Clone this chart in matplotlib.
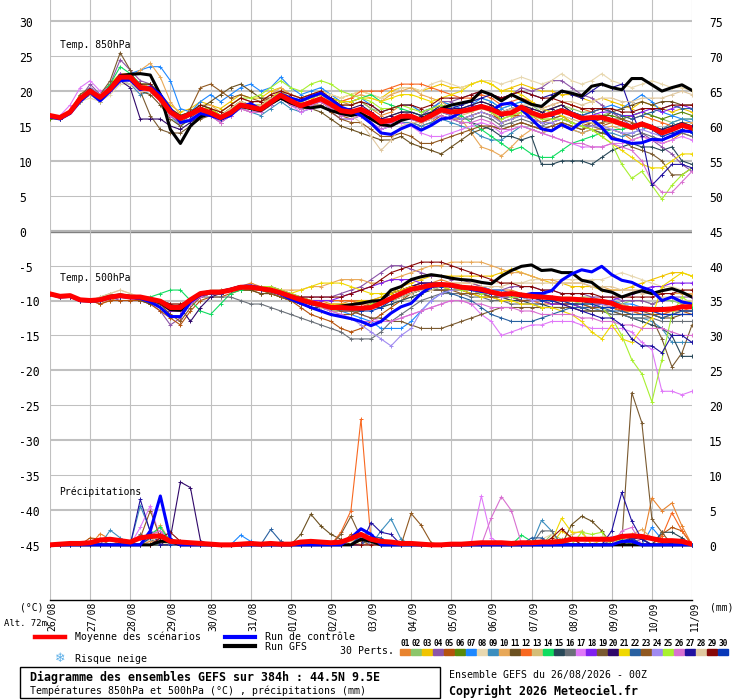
import numpy as np
import matplotlib
matplotlib.use("Agg")
import matplotlib.pyplot as plt
import matplotlib.transforms as mtransforms
from matplotlib.lines import Line2D
from matplotlib.patches import Rectangle

# GEFS ensemble run 26/08/2026 00Z, one value every 6h out to 384h
hours = list(range(0, 385, 6))
day_labels = ["26/08", "27/08", "28/08", "29/08", "30/08", "31/08", "01/09", "02/09", "03/09",
              "04/09", "05/09", "06/09", "07/09", "08/09", "09/09", "10/09", "11/09"]

pert_colors = ["#e8832e", "#8cc66a", "#f0c400", "#8c55a8", "#b5530d", "#5a8a0a", "#1e88ff", "#e8d8b0",
               "#3c8ebe", "#e8a858", "#6b5020", "#f86820", "#d4be78", "#10dc60", "#284858", "#6a7078",
               "#e078f8", "#8020f0", "#7a5a30", "#30086a", "#f0d800", "#2860a0", "#905820", "#a08af0",
               "#a8f030", "#d870d0", "#2010a0", "#e0c8a0", "#880808", "#0838b8"]

# 850 hPa temperature (C)
t850_mean = [16.5,16.2,17.0,18.9, 20.0,19.1,20.3,22.0, 22.0,20.5,20.3,18.9, 17.0,16.1,16.7,17.4, 16.9,16.2,16.9,18.0, 17.7,17.4,18.4,19.4, 18.6,17.9,18.4,18.9, 18.1,17.2,17.0,17.4, 16.7,15.6,15.8,16.4, 16.4,15.8,16.5,17.3, 17.0,17.1,17.4,17.8, 17.4,16.7,16.9,17.7, 16.9,16.4,16.7,17.2, 16.7,16.1,16.2,16.2, 15.8,15.3,14.8,15.3, 14.8,14.0,14.5,15.1, 14.7]
t850_ctrl = [16.3,16.0,16.8,18.5, 19.8,18.6,20.0,21.5, 21.6,20.2,20.6,19.5, 17.5,15.5,15.8,16.8, 16.5,16.0,16.5,17.8, 18.2,17.4,18.5,19.6, 19.0,18.6,19.2,19.7, 18.8,17.7,17.2,16.5, 15.4,14.0,13.8,14.6, 15.2,14.4,15.1,16.0, 16.2,17.0,17.6,17.9, 17.2,18.1,18.3,17.4, 16.0,14.6,14.3,15.2, 14.5,15.6,16.0,14.8, 13.2,12.9,12.5,12.6, 13.1,13.0,13.6,14.3, 14.2]
t850_gfs = [16.4,16.1,17.0,18.8, 20.2,18.8,20.5,22.2, 22.4,22.5,22.3,19.5, 14.5,12.5,15.0,16.3, 16.8,16.0,16.7,17.8, 17.5,17.2,18.2,19.0, 18.3,17.8,17.6,17.8, 17.2,16.8,16.5,16.8, 16.0,15.2,15.0,15.8, 16.2,16.0,16.7,17.5, 18.0,18.3,18.6,20.0, 19.5,18.6,19.5,18.8, 18.1,17.8,19.0,20.0, 19.7,19.3,20.7,21.0, 20.5,20.2,21.8,21.8, 20.9,20.0,20.5,20.9, 20.1]
t850_perts = [
    [16.5,16,17,19, 20,19,21,22.5, 22.5,21,20,19, 16.5,15.5,16,17, 17,16.5,17.5,18.5, 18,18,19,20, 19.5,19,19.5,19.5, 19,18.5,18,18.5, 17.5,16.5,17,18, 18,17,17.5,18, 17.5,17,17,18, 17,15.5,16,17, 16.5,15.5,16,16.5, 15.5,15,15,14.5, 14.5,14,13,13.5, 13,12.5,13,14, 13.5],
    [16.5,16.5,17,19, 20,19.5,20.5,22, 21.5,20.5,21,19.5, 17.5,16.5,17,18, 17.5,16.5,17.5,18.5, 18,18,19,20, 19,18.5,19,19.5, 18.5,18,18,18.5, 17.5,17,17.5,18, 18,17,17.5,18.5, 18,18,18.5,19, 18.5,17.5,18,18.5, 18,17,17.5,18, 17.5,17,17,16.5, 17,16,16.5,17, 16.5,16,15.5,16, 16],
    [16.5,16,17,19.5, 20.5,19.5,21,22.5, 22,21,21,19.5, 18,17,17.5,18.5, 18,17.5,18.5,19.5, 19,19,20,20.5, 19.5,19,19.5,20, 19.5,19,19.5,20, 19.5,19,20,20.5, 20.5,20,20.5,21, 20.5,20.5,21,21.5, 21,20,20.5,21, 20.5,20,20,19.5, 19.5,19,18.5,19, 18.5,18,17.5,18.5, 18,17.5,17,17.5, 17],
    [16.5,16,17,19, 21,19.5,21,24.5, 23,21.5,21,19.5, 17,15.5,16,17, 16.5,15.5,16.5,17.5, 17,17,18,19.5, 18.5,18,18.5,19, 18,17.5,17,17.5, 16.5,15,15.5,16.5, 17,16.5,17.5,18.5, 18.5,19,19.5,20, 19.5,19,19.5,20.5, 20,20.5,21.5,21.5, 20.5,19.5,19,18, 17,16,15,14, 13,12,11,9.5, 8.5],
    [16.5,16,17,18.5, 19.5,19,20,21.5, 21.5,20,20,18.5, 16.5,15.5,16,17, 16.5,16,17,18, 17.5,17.5,18.5,19, 18,17.5,18,18.5, 17.5,16.5,16,16.5, 15.5,14.5,15,15.5, 15.5,15,15.5,16.5, 16,16,16.5,17, 16.5,16,16.5,16.5, 16,15.5,15.5,16, 15.5,15,15.5,15, 15.5,15,14.5,15, 14.5,14,14.5,15, 15],
    [16,16,17,19, 20,19,20,22, 22,20.5,20.5,19, 17,16,16.5,17.5, 17.5,16.5,17.5,18, 17.5,17,18,19, 18,17.5,18,18.5, 17.5,17,17,17.5, 17,16,16.5,17, 17,16.5,17,18, 17.5,17.5,18,18.5, 18,17,17.5,18, 17.5,17,17.5,18, 17,16.5,16,16.5, 16.5,16,16.5,17, 16.5,16,16.5,17, 16.5],
    [16.5,16.5,17,19, 20,19,20.5,22, 22.5,23,23.5,23.5, 21.5,17.5,17,18.5, 19.5,18.5,19.5,20.5, 21,20,20.5,22, 20.5,19.5,20,20.5, 19.5,18.5,18.5,19, 18,17,17.5,18, 18,17,17.5,18.5, 18,17.5,18,19, 18.5,17.5,18,18.5, 18,17.5,17,17.5, 17,16.5,17,17.5, 18,17.5,18.5,19.5, 18.5,17,16.5,16, 15.5],
    [16.5,16,17,18.5, 19,18.5,19.5,21, 21,20,20,18.5, 17,16,16.5,17.5, 17,16.5,17.5,18.5, 18,18,19,20, 19.5,19,19.5,20, 19.5,19,19.5,20, 19.5,19,19.5,20.5, 20.5,20,21,21.5, 21,20.5,21,21.5, 21.5,21,21.5,22, 21.5,21,21.5,22.5, 21.5,21,21.5,22.5, 21.5,21,20.5,21, 21.5,21,20.5,20.5, 20],
    [16.5,16,17,18.5, 19.5,18.5,20,21.5, 21,19.5,20,18.5, 16.5,15,16,17, 16.5,15.5,16.5,17.5, 17,16.5,17.5,18.5, 17.5,17,17.5,18, 17,16,16,16.5, 15.5,14.5,15,15.5, 15.5,15,15.5,16, 15.5,15,14.5,13.5, 13,13,14,15, 14.5,14,14.5,15, 14.5,14,14.5,14, 14,13.5,14,14.5, 15,14.5,15.5,16, 16],
    [16.5,16,17,19, 20,19,20.5,22, 22,23,24,22, 18.5,16.5,17,18, 18,17,18,19, 18.5,18.5,19.5,20.5, 19.5,19,19.5,20, 19,18.5,19,19.5, 19,18.5,19.5,20, 20.5,19.5,19,18.5, 17.5,16,14,12, 11.5,10.7,12,13.5, 14.5,14,14.5,15, 14.5,14,14.5,14.5, 15,14.5,15,15.5, 15,14.5,15,15.5, 15.5],
    [16.5,16,17,19, 20,19,20.5,22, 22,20,19.5,18, 16,15,16,17.5, 18.5,19.5,20.5,21, 20,19,19,19.5, 18.5,17.5,17.5,17, 16,15,14.5,14, 13.5,13,13,13.5, 12.5,12,11.5,11, 12,13,14,14.5, 15,14.5,15,15.5, 15,14.5,15,15.5, 15,14.5,15.5,16, 17,17.5,18,18.5, 18,18.5,18.5,18, 18],
    [16.5,16,17,19, 20,19,20,21.5, 22,21,20.5,19, 17,16,16.5,17.5, 17,16.5,17.5,18.5, 18,18,19,19.5, 19,18.5,19,19.5, 19,18.5,19,20, 20,20,20.5,21, 21,21,20.5,20, 19.5,19,19,19.5, 19,18,18.5,19, 18.5,17.5,18,18.5, 18,17.5,17,17.5, 17,16.5,16,16.5, 16,15.5,15,15.5, 15],
    [16.5,16,17,18.5, 19.5,18.5,20,21.5, 21.5,20,20,18.5, 16.5,15.5,16,17, 16.5,15.5,16.5,17.5, 17,17,18,19, 18,17.5,18,18.5, 17.5,16.5,16.5,17, 16,15,15.5,16, 16,15.5,16,17, 16.5,16.5,17,17.5, 17,16,16.5,17, 16.5,16,16,16.5, 16,15.5,15.5,15.5, 15.5,15,14.5,15, 14.5,14,14.5,15, 14.5],
    [16.5,16,17,19, 20,19.5,21,23.5, 22.5,21,21,19.5, 17.5,16.5,17,18, 17.5,16.5,17.5,18.5, 18,18,19,19.5, 19,18.5,19,19.5, 19,18.5,18.5,19, 19.5,18.5,18,17.5, 17,16.5,17,17.5, 17,16.5,15.5,14.5, 13.5,12.5,11.5,12, 11,10.5,10.5,11.5, 12.5,13,13.5,14, 14.5,14.5,15,15.5, 15,14.5,15,15.5, 15],
    [16.5,16,17,19, 20,19,20.5,22, 21.5,20,20,18.5, 16.5,15.5,16,17, 17,16,17,18, 17.5,17.5,18.5,19, 18.5,18,18.5,19, 18,17,17,17, 16,15,15.5,16, 16,15.5,16,16.5, 16,15.5,15.5,15, 14.5,13.5,13.5,13, 13.5,9.5,9.5,10, 10,10,9.5,10.5, 11.5,12,12.5,12, 12,11.5,12,10, 9.5],
    [16.5,16,17,19, 20,19,20,22, 22,20.5,20,18.5, 16.5,15.5,16.5,17.5, 17,16,17,18, 17.5,17.5,18.5,19.5, 18.5,18,18.5,19, 18,17,16.5,17, 16,15,15.5,16, 16.5,16,16.5,17, 16.5,16,16,16.5, 16,15,15.5,16, 15.5,15,15.5,16, 15.5,15,15,14.5, 14.5,14,13.5,14, 13.5,13,13.5,14, 13.5],
    [16.5,16.5,18,20.5, 21.5,20,20.5,22, 21.5,20,20,18.5, 16.5,15.5,16,17, 16.5,15.5,16.5,17.5, 17,17,18,19, 18,17,17.5,18, 17,16,16,16.5, 15.5,14.5,15,15.5, 15,14,13.5,13.5, 14,14.5,15,15.5, 15,14,14.5,15, 14.5,14,13.5,13, 12.5,12,12,12, 12.5,12.5,13,13.5, 13,12.5,13,13.5, 13],
    [16.5,16,17,19, 20,19,20.5,22.5, 22,20.5,20.5,19, 17,16,16.5,17.5, 17,16.5,17.5,18.5, 18,17.5,18.5,19.5, 18.5,18,18.5,19, 18,17,17,17.5, 17,16,16,16.5, 16.5,16,16.5,17.5, 17,17,17.5,18, 17.5,16.5,17,17.5, 17,16.5,16.5,17, 16.5,16,16.5,17, 17,16.5,16.5,17, 17.5,17,17.5,18, 17.5],
    [16.5,16,17,19.5, 20.5,19.5,21.5,25.5, 23,20,16.5,14.5, 14,14,15,16, 16.5,16,17,18, 17.5,17,18,19, 18,17.5,18,18.5, 17.5,16.5,16.5,17, 16,15,15.5,16, 16,15.5,16,17, 16.5,16,16.5,17, 16.5,15.5,16,16.5, 16,15.5,16,16.5, 15.5,15,14.5,14, 13.5,13,12,11.5, 11,10,8,8, 9],
    [16.5,16,17,19, 20,19,20.5,21.5, 20.5,16,16,16, 15,14.5,15.5,16.5, 16.5,16,17,18, 17.5,17.5,18.5,19.5, 18.5,18,18.5,19, 18,17.5,17.5,18, 17,16,16.5,17, 17,16.5,17,18, 17.5,17.5,18,18.5, 18,17,17.5,18, 17.5,17,17.5,18, 17,16.5,16,16.5, 16,15.5,15,15.5, 15,14.5,15,15.5, 15],
    [16.5,16,17,19, 20,19,20.5,22, 22,20.5,20.5,19, 17,16,16.5,17.5, 17.5,16.5,17.5,18.5, 18,18,19,20, 19,18.5,19,19.5, 19,18.5,18.5,19, 19,18.5,19,19.5, 19.5,19,18.5,19, 19.5,20,21,21.5, 21,20,20,19.5, 18.5,17.5,17,16.5, 15.5,15,14.5,13.5, 12.5,11.5,10.5,9.5, 9,9,10,11, 11],
    [16.5,16,17,19, 20,19,20.5,22, 22,20.5,20.5,19, 17,16,16.5,17.5, 17,16,17,18, 17.5,17.5,18.5,19.5, 18.5,18,18.5,19, 18,17,17,17.5, 16.5,15.5,16,16.5, 16.5,16,16.5,17.5, 17,17,17.5,18, 17.5,16.5,17,17.5, 17,16.5,17,17.5, 17,16.5,17,17.5, 17,16.5,16,16.5, 17,17.5,18,17.5, 17.5],
    [16.5,16,17,19, 20,19,20.5,22, 22,20.5,20,18.5, 16.5,15.5,17.5,20.5, 21,20,19,19.5, 19,18.5,19,19.5, 18.5,18,18,18, 17,16,15.5,15.5, 14.5,13.5,13.5,14, 13.5,12.5,12.5,13, 13.5,14,14.5,15, 15,14.5,15,15.5, 15,14.5,15,15.5, 15,14.5,15,15.5, 16,16,15.5,15, 14.5,14,14.5,15, 14.5],
    [16.5,16,17,19, 20.5,19.5,20.5,22, 21.5,20,20,18.5, 17,16,16.5,17.5, 17,16,17,18, 17.5,17,18,19, 18,17.5,18,18.5, 17.5,16.5,16.5,17, 16,15,15.5,16, 16,15.5,16,17, 16.5,16,16.5,17, 16.5,15.5,16,16.5, 16,15.5,15.5,16, 15.5,15,15,15, 14.5,14,14,14.5, 14,13.5,14,14.5, 14],
    [16.5,16,17,19, 20,19,20.5,22, 22,20.5,20.5,19, 17,16,16.5,17.5, 17.5,17,18,19, 19,19.5,20.5,21.5, 20.5,20,21,21.5, 21,20,19.5,19, 18.5,17.5,17.5,18, 17.5,17,17.5,18, 17.5,17,17.5,18, 17,16,16.5,17, 16.5,16,16,16, 15.5,15,14.5,13.5, 12.5,9.5,7.5,8.5, 6.5,4.5,6.5,8, 9],
    [16.5,16,17,19, 20,19,20,21.5, 21.5,20,20,18.5, 16.5,15.5,16,17, 16.5,15.5,16.5,17.5, 17,17,18,19, 18,17.5,18,18.5, 17.5,16.5,16.5,17, 16,15,15.5,16, 16,15.5,16,16.5, 16,15.5,15.5,16, 15.5,14.5,14.5,15, 14.5,14,13.5,13, 12.5,12.5,12,12, 12.5,12,11.5,10, 7,5.5,5.5,7, 8.5],
    [16.5,16,17,19, 20,19,20.5,22, 22,20.5,20.5,19, 17,16,16.5,17.5, 17,16,17,18, 17.5,17.5,18.5,19.5, 18.5,18,18.5,19, 18,17,17,17.5, 16.5,15.5,16,16.5, 16.5,16,16.5,17.5, 17.5,18,18.5,19, 19.5,19,19.5,20, 19.5,19,19.5,20, 19.5,19,20,21, 20.5,21,17,13.5, 6.5,8,9.5,9.5, 9],
    [16.5,16,17,19, 20,19.5,20.5,21.5, 21,20,20,18.5, 17,16,16.5,17.5, 17,16.5,17.5,18.5, 18,18,19,19.5, 18.5,18,18.5,19, 18,17,16.5,15.5, 13.5,11.5,13,15, 15.5,15.5,16,17, 17,17,17.5,18, 17.5,17,17.5,18, 18,17.5,18,18.5, 18.5,18,18.5,19, 19,18.5,18.5,19, 19,19,19.5,20, 19.5],
    [16.5,16,17,19, 20,19,20.5,22, 22,21,21,19.5, 17.5,16.5,17,18, 17.5,17,18,19, 18.5,18.5,19.5,20, 19.5,19,19.5,20, 19,18,18,18.5, 18,17,17.5,18, 18,17.5,18,19, 19,19,19.5,20, 19.5,19,19.5,20, 19.5,19,19,18.5, 18,17.5,17.5,17.5, 17.5,17,17,17.5, 17.5,17.5,18,18, 18],
    [16.5,16,17,19, 20,19,20.5,22, 22,20.5,20.5,19, 17,16,16.5,17.5, 17,16,17,18, 17.5,17.5,18.5,19.5, 18.5,18,18.5,19, 18,17,17,17.5, 16.5,15.5,16,16.5, 16.5,16,16.5,17.5, 17,17,17.5,18, 17.5,16.5,17,17.5, 17,16.5,16.5,17, 16.5,16,16,16, 16,15.5,15,15.5, 14.5,13.5,14,14.5, 14],
]

# 500 hPa temperature (C)
t500_mean = [-9.05,-9.4,-9.3,-9.9, -10.0,-9.9,-9.5,-9.3, -9.5,-9.5,-9.8,-10.1, -11.0,-11.0,-9.9,-9.0, -8.8,-8.8,-8.5,-8.1, -8.1,-8.3,-8.5,-8.9, -9.4,-9.9,-10.3,-10.6, -11.0,-11.0,-11.1,-11.1, -11.0,-10.4,-9.7,-9.0, -8.4,-8.1,-7.8,-7.7, -7.8,-8.1,-8.2,-8.4, -8.8,-9.1,-9.0,-9.2, -9.4,-9.5,-9.6,-9.8, -9.8,-9.9,-10.0,-10.1, -10.4,-11.0,-11.2,-11.2, -11.3,-11.3,-11.2,-10.9, -10.9]
t500_ctrl = [-9.1,-9.5,-9.4,-10.0, -10.1,-10.0,-9.6,-9.4, -9.6,-9.7,-10.2,-11.0, -12.3,-12.3,-10.2,-9.2, -8.9,-8.8,-8.4,-8.0, -7.9,-8.2,-8.6,-9.1, -9.8,-10.4,-11.0,-11.5, -12.0,-12.3,-12.6,-13.0, -13.6,-13.0,-11.8,-10.9, -10.4,-9.0,-8.0,-7.8, -7.8,-8.0,-8.4,-8.7, -8.9,-9.2,-9.0,-9.3, -9.0,-9.0,-8.6,-7.1, -6.2,-5.6,-5.9,-5.1, -6.3,-7.1,-7.4,-8.1, -8.6,-10.0,-9.5,-10.2, -10.5]
t500_gfs = [-9.0,-9.4,-9.3,-9.9, -10.0,-9.8,-9.4,-9.2, -9.4,-9.5,-9.9,-10.3, -11.3,-11.4,-10.0,-9.0, -8.7,-8.7,-8.4,-8.0, -8.0,-8.3,-8.6,-9.0, -9.5,-10.0,-10.4,-10.7, -10.9,-10.8,-10.6,-10.4, -10.1,-10.0,-8.5,-8.0, -7.0,-6.6,-6.3,-6.5, -6.8,-7.0,-7.1,-7.4, -7.6,-6.5,-5.7,-5.1, -4.9,-5.7,-5.6,-6.0, -6.0,-7.1,-7.4,-8.5, -8.8,-9.5,-9.0,-8.6, -9.0,-8.6,-8.3,-8.8, -9.5]
t500_perts = [
    [-9,-9.5,-9.5,-10, -10,-10.5,-10,-9.5, -9.5,-9.5,-10,-10.5, -11.5,-11.5,-10.5,-9.5, -9,-9,-8.5,-8, -7.5,-8,-8,-8.5, -9,-9.5,-10,-10, -10.5,-10.5,-10,-10, -10,-9.5,-9,-8.5, -8,-7.5,-7.5,-7, -7.5,-7.5,-7.5,-8, -8.5,-8.5,-8.5,-9, -9,-9.5,-9.5,-10, -10,-10,-10.5,-10.5, -11,-11.5,-11.5,-11, -11.5,-12,-11.5,-11, -11],
    [-9,-9.5,-9.5,-10, -10,-9.5,-9,-9.5, -9.5,-9.5,-10,-10, -11,-10.5,-10,-9, -9,-8.5,-8.5,-8, -8,-8.5,-8.5,-9, -9.5,-10,-10,-10.5, -11,-11,-11,-11, -11,-10.5,-9.5,-9, -8.5,-8,-8,-7.5, -8,-8,-8,-8.5, -9,-9,-9,-9.5, -9.5,-9.5,-10,-10, -10,-9.5,-9.5,-10, -10,-10.5,-10,-10, -10.5,-10,-10,-10.5, -10],
    [-9,-9.5,-9.5,-10, -10,-10,-9.5,-9.5, -9.5,-9.5,-10,-10, -11,-11,-10,-9, -9,-9,-8.5,-8, -8,-8.5,-8.5,-9, -9.5,-10,-10,-10.5, -10.5,-10.5,-10.5,-10, -10,-9.5,-9,-8, -7.5,-7,-6.5,-6.5, -6.5,-6.5,-6.5,-6.5, -6.5,-6,-5.5,-6, -6.5,-7,-7.5,-7.5, -8,-8,-8,-8.5, -8.5,-8.5,-8,-7.5, -7,-6.5,-6,-6, -6.5],
    [-9,-9.5,-9.5,-10, -10,-10,-9.5,-10, -10,-10,-10.5,-11.5, -13.5,-12.5,-10.5,-9.5, -9,-9,-8.5,-8, -8,-8.5,-8.5,-9, -9.5,-9.5,-9.5,-9.5, -9.5,-9,-8.5,-8, -7,-6,-5,-5, -5.5,-6,-6.5,-6.5, -7,-7,-7.5,-8, -8.5,-8.5,-8,-8, -8,-8.5,-8.5,-9, -9,-9,-9.5,-9.5, -9.5,-10,-10,-10, -10.5,-10,-9.5,-9.5, -9.5],
    [-9,-9.5,-9.5,-10, -10,-10.5,-10,-10, -10,-10,-10.5,-11.5, -12.5,-13.5,-11.5,-10, -9.5,-9.5,-9,-8.5, -8.5,-9,-9,-9.5, -10,-11,-12,-12.5, -13,-14,-14.5,-14, -13,-12,-11,-10, -9,-8.5,-8.5,-8.5, -9,-9,-9,-9.5, -9.5,-10,-10,-10, -10,-10,-10.5,-10.5, -10.5,-10.5,-11,-11, -11,-11.5,-11.5,-12, -12,-12.5,-12,-11.5, -12],
    [-9,-9.5,-9.5,-10, -10,-10,-9.5,-9.5, -9.5,-9.5,-10,-10, -11,-11,-10,-9, -9,-9,-8.5,-8.5, -8.5,-8.5,-9,-9.5, -10,-10.5,-11,-11, -11,-11.5,-11.5,-11.5, -11,-10.5,-10,-9.5, -9,-8.5,-8.5,-8, -8,-8.5,-8.5,-9, -9,-9.5,-9.5,-9.5, -10,-10,-10,-10, -10.5,-10.5,-10,-10, -10,-10.5,-11,-11, -11,-11.5,-11.5,-11, -11],
    [-9,-9.5,-9.5,-10, -10,-10,-9.5,-9.5, -9.5,-9.5,-10,-10, -11,-11,-10,-9, -9,-9,-8.5,-8, -8,-8,-8,-8.5, -9,-9.5,-10,-10.5, -11,-11.5,-12,-12.5, -13,-14,-14,-14, -13,-11.5,-10,-9, -8.5,-8,-8,-8, -8.5,-8.5,-9,-9, -9,-9,-9.5,-9.5, -10,-10,-10,-10, -10,-10.5,-10.5,-11, -11,-11,-11.5,-11.5, -11.5],
    [-9,-9.5,-9.5,-10, -10,-10,-9,-8.5, -9,-9.5,-10,-10, -10.5,-10.5,-10,-9, -9,-9,-8.5,-8, -8,-8.5,-8.5,-9, -9.5,-10,-10,-10.5, -11,-11,-11,-11, -11,-10.5,-9.5,-9, -8.5,-8,-8,-7.5, -7.5,-7.5,-7.5,-7.5, -7.5,-7.5,-7.5,-7.5, -7,-7,-7,-7, -7,-7,-7,-7, -6.5,-6,-6.5,-7, -7.5,-8,-8,-8.5, -8.5],
    [-9,-9.5,-9.5,-10, -10,-10,-9.5,-9.5, -9.5,-9.5,-10,-10, -11,-11,-10,-9, -9,-9,-8.5,-8, -8,-8.5,-8.5,-9, -9.5,-10,-10.5,-10.5, -11,-11,-11,-11, -11,-10.5,-9.5,-9, -8.5,-8,-8,-8, -8,-8,-8.5,-9, -9,-9.5,-9.5,-10, -10,-10,-10.5,-10.5, -10.5,-11,-11,-11.5, -11.5,-12,-12.5,-12.5, -13,-14,-16,-16, -16],
    [-9,-9.5,-9.5,-10, -10,-10,-9.5,-9.5, -9.5,-9.5,-10,-10, -11,-11,-10,-9, -9,-9,-8.5,-8, -8,-8.5,-8.5,-8.5, -8.5,-8.5,-8,-8, -7.5,-7,-7,-7, -7.5,-7.5,-7,-6.5, -6,-5.5,-5,-5, -4.5,-4.5,-4.5,-4.5, -5,-5.5,-6,-6, -6.5,-7,-7,-7.5, -7.5,-7.5,-8,-8, -8.5,-8.5,-8.5,-8.5, -9,-9,-9,-9, -9],
    [-9,-9.5,-9.5,-10, -10,-10,-9.5,-9.5, -9.5,-10,-10.5,-10.5, -11.5,-11.5,-10.5,-9.5, -9,-9,-8.5,-8.5, -8.5,-9,-9,-9.5, -10,-10.5,-11,-11, -11.5,-11.5,-11.5,-11, -10.5,-10,-9,-8.5, -8,-7.5,-7.5,-7.5, -8,-8,-8.5,-9, -9.5,-9.5,-9.5,-10, -10,-10,-10.5,-10.5, -10.5,-11,-11,-11, -11,-11.5,-12,-12, -12,-12.5,-12.5,-12, -12],
    [-9,-9.5,-9.5,-10, -10,-10,-9.5,-9.5, -9.5,-9.5,-10,-10, -11,-11,-10,-9, -9,-8.5,-8.5,-8, -8,-8,-8,-8.5, -9,-9.5,-10,-10, -10,-10,-10,-10.5, -10.5,-10,-9.5,-9, -8.5,-8.5,-8,-8, -8.5,-8.5,-9,-9, -9.5,-9.5,-10,-10, -10,-10.5,-10.5,-10.5, -11,-11,-11,-11, -11,-11.5,-11.5,-12, -12,-12,-11.5,-11.5, -11],
    [-9,-9.5,-9.5,-10, -10,-10,-9.5,-9, -9.5,-9.5,-10,-10, -11,-11,-10,-9, -9,-9,-8.5,-8, -8,-8.5,-8.5,-9, -9.5,-10,-10.5,-11, -11.5,-11.5,-11.5,-11.5, -11,-11,-10.5,-10, -9.5,-9,-8.5,-8.5, -8.5,-8.5,-8.5,-8.5, -8.5,-9,-9,-9, -9,-9.5,-9.5,-9.5, -9.5,-10,-10,-10, -10.5,-10.5,-11,-11, -11,-11.5,-11.5,-11.5, -11.5],
    [-9,-9.5,-9.5,-10, -10,-10,-9.5,-9.5, -9.5,-9.5,-9.5,-9, -8.5,-8.5,-10,-11.5, -12,-10.5,-9,-8.5, -8,-8.5,-8.5,-9, -9.5,-10,-10.5,-10.5, -11,-11,-11,-11, -11,-10.5,-10,-9.5, -9,-8.5,-8.5,-8, -8.5,-8.5,-8.5,-9, -9,-9.5,-9.5,-9.5, -9.5,-10,-10,-10, -10,-10,-10,-10.5, -10.5,-11,-11,-11, -11.5,-11.5,-11,-11, -11],
    [-9,-9.5,-9.5,-10, -10,-10,-9.5,-9.5, -9.5,-9.5,-10,-10, -11,-11,-10,-9, -9,-9,-8.5,-8, -8,-8.5,-8.5,-9, -9.5,-10,-10.5,-11, -11,-11.5,-11.5,-11.5, -11,-11,-10.5,-10, -9.5,-9,-8.5,-8.5, -8.5,-8.5,-9,-9, -9.5,-9.5,-10,-10, -10.5,-10.5,-11,-11, -11,-11,-11.5,-11.5, -12,-12,-12.5,-13, -13.5,-14,-15,-18, -18],
    [-9,-9.5,-9.5,-10, -10,-10,-9.5,-9.5, -9.5,-9.5,-10,-10, -11,-11,-10,-9.5, -9.5,-9.5,-9.5,-10, -10.5,-10.5,-11,-11.5, -12,-12.5,-13,-13.5, -14,-14.5,-15.5,-15.5, -15.5,-14.5,-13,-12, -11,-10,-9.5,-9, -9,-9,-9.5,-9.5, -10,-10,-10.5,-10.5, -10.5,-11,-11,-11, -11,-11.5,-11.5,-11.5, -12,-12,-12.5,-12.5, -12.5,-13,-13,-13, -13],
    [-9,-9.5,-9.5,-10, -10,-10,-9.5,-9.5, -9.5,-9.5,-10,-10.5, -11,-11,-10,-9, -9,-9,-8.5,-8, -8,-8.5,-8.5,-9, -9.5,-10,-10.5,-11, -11,-11.5,-11.5,-12, -12.5,-13,-13,-12.5, -12,-11.5,-11,-10.5, -10,-10,-10.5,-12, -13,-15,-14.5,-14, -13.5,-13.5,-13,-13, -13,-13.5,-14,-14, -14,-14,-14.5,-16, -17,-23,-23,-23.5, -23],
    [-9,-9.5,-9.5,-10, -10,-10,-9.5,-9.5, -9.5,-9.5,-10,-10.5, -11.5,-11.5,-10.5,-9.5, -9,-9,-8.5,-8, -8,-8.5,-8.5,-9, -9.5,-10,-10,-10, -10,-9.5,-9,-8.5, -8,-7.5,-7,-7, -7,-7.5,-7.5,-8, -8,-8.5,-8.5,-9, -9,-9.5,-9.5,-10, -10,-10,-10.5,-10.5, -10.5,-11,-11,-10.5, -10,-9.5,-9,-8.5, -8,-8,-7.5,-7.5, -7.5],
    [-9,-9.5,-9.5,-10, -10,-10,-9.5,-9.5, -9.5,-9.5,-10,-10, -11,-11,-10,-9, -9,-9,-8.5,-8, -8,-8.5,-8.5,-9, -9.5,-10,-10.5,-11, -11,-11.5,-11.5,-12, -12.5,-12.5,-13,-13, -13.5,-14,-14,-14, -13.5,-13,-12.5,-12, -11.5,-11,-11,-11, -11,-11,-11,-11, -11,-11.5,-11.5,-11.5, -11.5,-12,-12,-12, -12.5,-15.5,-19.5,-17.5, -13.5],
    [-9,-9.5,-9.5,-10, -10,-10,-9.5,-9.5, -9.5,-9.5,-10,-10, -10.5,-11,-13,-11, -9.5,-9,-8.5,-8, -8,-8.5,-8.5,-9, -9.5,-10,-10.5,-10.5, -11,-11,-11,-11, -10.5,-10,-9,-8.5, -8,-7.5,-7.5,-7.5, -8,-8,-8,-8.5, -9,-9,-9,-9.5, -9.5,-9.5,-10,-10, -10,-10,-10.5,-10.5, -10.5,-11,-11,-11, -11,-11,-11,-11.5, -11.5],
    [-9,-9.5,-9.5,-10, -10,-10,-9.5,-9.5, -9.5,-9.5,-10,-10, -11,-11,-10,-9, -9,-9,-8.5,-8, -8,-8.5,-8.5,-9, -9,-8.5,-8,-7.5, -7.5,-7.5,-8,-8.5, -9,-9,-9,-8.5, -8,-8,-8,-8, -8.5,-8.5,-9,-9.5, -9.5,-10,-10,-10.5, -10.5,-11,-11,-11.5, -12,-13,-14.5,-15.5, -13.5,-15.5,-16,-14, -12.5,-8,-7,-6, -6.5],
    [-9,-9.5,-9.5,-10, -10,-10,-9.5,-9.5, -9.5,-9.5,-10,-10, -11,-11,-10,-9, -9,-9,-8.5,-8, -8,-8.5,-8.5,-9, -9.5,-10,-10.5,-10.5, -11,-11,-11,-11, -11,-10.5,-10,-9.5, -9,-8.5,-8.5,-8.5, -9,-9.5,-10,-11, -12,-12.5,-13,-13, -13,-12.5,-12,-11.5, -11,-11,-11,-11, -11.5,-11.5,-12,-12, -12,-12.5,-12,-11.5, -11.5],
    [-9,-9.5,-9.5,-10, -10,-10,-9.5,-9.5, -9.5,-10,-10,-10.5, -12,-13,-11,-9.5, -9,-9,-8.5,-8, -8,-8.5,-9,-9.5, -10,-10.5,-11,-11.5, -12,-12,-12,-11.5, -11,-10.5,-10,-9.5, -9,-8.5,-8.5,-8.5, -8.5,-9,-9,-9, -9.5,-9.5,-9.5,-10, -10,-10,-10,-10.5, -10.5,-10.5,-11,-11, -11,-11,-11.5,-11.5, -12,-12,-12,-12, -12],
    [-9,-9.5,-9.5,-10, -10,-10,-9.5,-9.5, -9.5,-9.5,-10,-10, -11,-11,-10,-9, -9,-9,-8.5,-8, -8,-8.5,-8.5,-9, -9.5,-10,-10.5,-11, -11.5,-12,-12.5,-13.5, -14.5,-15.5,-16.5,-15, -14,-11.5,-10,-9, -8.5,-8.5,-8.5,-9, -9,-9.5,-9.5,-9.5, -10,-10,-10,-10, -10,-10.5,-10.5,-10.5, -11,-11,-11.5,-11.5, -11.5,-12,-12,-12, -12],
    [-9,-9.5,-9.5,-10, -10,-10,-9.5,-9.5, -9.5,-9.5,-10,-10, -11,-11,-10,-9, -9,-9,-8.5,-8, -8,-8,-8,-8.5, -9,-9.5,-10,-10.5, -11,-11,-11,-11, -10.5,-10,-9.5,-9, -8.5,-8,-8,-8, -8,-8.5,-8.5,-9, -9,-9,-9.5,-9.5, -9.5,-10,-10,-10, -10,-10.5,-10.5,-11, -12.5,-15,-18.5,-20.5, -24.5,-18.5,-12,-9.5, -10.5],
    [-9,-9.5,-9.5,-10, -10,-10,-9.5,-9.5, -9.5,-9.5,-10,-10, -11,-11.5,-10.5,-9.5, -9,-9,-8.5,-8, -8,-8.5,-8.5,-9, -9.5,-10,-10.5,-11, -11.5,-12,-12.5,-13, -13,-13,-13,-12.5, -12,-11.5,-11,-10.5, -10,-10,-10.5,-10.5, -11,-11,-11,-11.5, -11.5,-12,-12,-12, -12,-12.5,-12.5,-13, -13,-13.5,-13.5,-14, -14,-14,-14.5,-15, -15],
    [-9,-9.5,-9.5,-10, -10,-10,-9.5,-9.5, -9.5,-9.5,-10,-10, -11,-11,-10,-9, -9,-9,-8.5,-8, -8,-8.5,-8.5,-9, -9.5,-10,-10.5,-11, -11,-11,-11,-11, -11,-10.5,-9.5,-9, -8.5,-8,-8,-8, -8,-8,-8,-8.5, -9,-9,-9,-9.5, -9.5,-10,-10,-10.5, -11,-11.5,-12,-12.5, -12.5,-13.5,-15.5,-16.5, -16.5,-17.5,-15,-15, -16],
    [-9,-9.5,-9.5,-10, -10,-9.5,-9,-8.5, -9,-9.5,-10,-10, -10.5,-10.5,-10,-9, -8.5,-8.5,-8.5,-8, -8,-8.5,-8.5,-9, -9.5,-10,-10.5,-11, -11,-11,-11,-11, -11,-10.5,-10,-9.5, -9,-8.5,-8.5,-8, -8,-8,-8,-8, -8,-8,-7.5,-7.5, -7.5,-7.5,-7.5,-7.5, -7.5,-7.5,-8,-8, -8,-8.5,-8.5,-9, -9,-9.5,-9.5,-10, -10],
    [-9,-9.5,-9.5,-10, -10,-10,-9.5,-9.5, -9.5,-9.5,-10,-10, -10.5,-10.5,-10,-9, -9,-9,-8.5,-8, -8,-8.5,-8.5,-9, -9.5,-9.5,-9.5,-9.5, -9.5,-9.5,-9,-8.5, -8,-7,-6,-5.5, -5,-4.5,-4.5,-4.5, -5,-5.5,-6,-6.5, -7,-7.5,-7.5,-8, -8,-8.5,-8.5,-9, -9,-9,-9,-9.5, -9.5,-9.5,-9.5,-9.5, -9.5,-9,-9,-8.5, -8.5],
    [-9,-9.5,-9.5,-10, -10,-10,-9.5,-9.5, -9.5,-9.5,-10,-10, -11,-11,-10,-9, -9,-9,-8.5,-8, -8,-8.5,-8.5,-9, -9.5,-10,-10.5,-10.5, -11,-11,-11,-11.5, -11.5,-11,-10,-9, -8.5,-8,-8,-8, -8,-8,-8.5,-8.5, -9,-9,-9,-9.5, -9.5,-10,-10,-10, -10.5,-10.5,-10.5,-11, -11,-11,-11,-11.5, -11.5,-12,-12,-12, -12],
]

# 6-hourly precipitation (mm)
rr_mean = [0,0.1,0.2,0.2, 0.3,0.7,0.8,0.6, 0.4,1.0,1.2,1.3, 0.5,0.4,0.3,0.2, 0.1,0,0,0.1, 0.2,0.1,0.2,0.1, 0.1,0.4,0.5,0.4, 0.3,0.4,0.9,1.5, 0.8,0.5,0.4,0.2, 0.2,0.1,0,0, 0.1,0.1,0.2,0.3, 0.3,0.3,0.2,0.3, 0.3,0.4,0.4,0.5, 0.8,0.8,0.8,0.8, 0.8,1.2,1.3,1.2, 0.9,0.6,0.6,0.5, 0.1]
rr_ctrl = [0,0,0,0, 0,0,0,0, 0,0,2,7, 0.8,0,0,0, 0,0,0,0, 0,0,0,0, 0,0,0,0, 0,0,1,2.3, 1.5,0,0,0, 0,0,0,0, 0,0,0,0, 0,0,0,0, 0,0,0,0, 0,0,0,0, 0,0.5,0.5,0, 0,0,0,0, 0]
rr_gfs = [0,0,0,0, 0,0,0,0, 0,0,0,0.5, 0.5,0,0,0, 0,0,0,0, 0,0,0,0, 0,0,0,0, 0,0,0,0.8, 0.5,0,0,0, 0,0,0,0, 0,0,0,0, 0,0,0,0, 0,0,0,0, 0,0,0,0, 0,0,0,0, 0,0,0,0, 0]
rr_perts = [
    [0,0,0,0, 0,1.6,0.8,0, 0,0,0.5,0, 0,0,0,0, 0,0,0,0, 0,0,0,0, 0,0,0,0, 0,0.5,0.8,0, 0,0,0,0, 0,0,0,0, 0,0,0,0, 0,0,0,0, 0,0,0,0, 0,0,0,0, 0,0.5,1,0, 6.7,4.9,6,2.7, 0],
    [0,0,0,0, 0,0,0,0, 0,0,1.2,0.8, 0,0,0,0, 0,0,0,0, 0,0,0,0, 0,0,0,0, 0,0,0,1, 0,0,0,0, 0,0,0,0, 0,0,0,0, 0,0,0,0, 0,0,1.5,0.8, 0,0,0,0, 1,0,0,0, 0,0,0,0, 0],
    [0,0,0,0, 0,0,0,0, 0,1,1.5,0.5, 0,0,0,0, 0,0,0,0, 0,0,0,0, 0,0,0,0, 0,0,0,0, 0,0,0,0, 0,0,0,0, 0,0,0,0, 0,0,0,0, 0,0,0,2, 1,0,0,0.7, 0,0,0,0, 0,0,0,0, 0],
    [0,0,0,0, 0,0,0,0, 0,0,1.5,2, 0.5,0,0,0, 0,0,0,0, 0,0,0,0, 0,0,0,0, 0,0,0,0, 1,0,0,0, 0,0,0,0, 0,0,0,0, 0,0,0,0, 0,0,0,0, 0,0,0,0, 0,0,1.2,0.8, 0,0,0,0, 0],
    [0,0,0,0, 1,0.8,0,0, 0,0,1,0, 0,0,0,0, 0,0,0,0, 0,0,0,0, 0,0,0,0, 0,0,1.5,0.5, 0,0,0,0, 0,0,0,0, 0,0,0,0, 0,0,0,0, 0,0,0,0, 0,0,0,0, 0,0,0,0, 0,1.5,2.5,2, 0],
    [0,0,0,0, 0,0,0,0, 0,0,1,1.5, 0,0,0,0, 0,0,0,0, 0,0,0,0, 0,0,0,0, 0,0,0,0.8, 0,0,0,0, 0,0,0,0, 0,0,0,0, 0,0,0,0, 0,0,0,0, 0,0,0,0, 0.6,0.8,0,0, 0,0,0,0, 0],
    [0,0,0,0, 0,0,0,0, 0,0,0,0, 0,0,0,0, 0,0,0,1.4, 0.5,0,0,0, 0,0,0,0, 0,0,0,1.2, 1.6,0,0,0, 0,0,0,0, 0,0,0,0, 0,0,0,0, 0,0,0,0, 0,0,0,0, 0,0,0,0, 2.5,0.8,0,0, 0],
    [0,0,0,0, 0,0,0,0, 0,0,0.8,0.5, 0,0,0,0, 0,0,0,0, 0,0,0,0, 0,0,0,0, 0,0,0,0, 0,0,0,0, 0,0,0,0, 0,0,0,0, 0,0,0,0, 0,0.8,1.5,0, 0,0,0,1.2, 0.8,0,0,0, 0,0,0,0, 0],
    [0,0,0,0, 0,0,2.1,1, 0,5.6,2,0, 0,0,0,0, 0,0,0,0, 0,0,0,0, 0,0,0,0, 0,0,0,0, 0,2,3.7,0.8, 0,0,0,0, 0,0,0,0, 0,0,0,0, 0,3.5,2,0, 0,0,0,0, 0,0,0,0, 0,0,0,0, 0],
    [0,0,0,0, 0,0,0,0, 0,0,1,2.8, 0.5,0,0,0, 0,0,0,0, 0,0,0,0, 0,0,0,0, 0,0,0,0, 0,0,0,0, 0,0,0,0, 0,0,0,0, 0,0,0,0, 0,0,0,0, 0,0,0,0, 0,0,1.5,2.2, 1,0,0,0, 0],
    [0,0,0,0, 0,0,0,0, 0,0,0,0, 0,0,0,0, 0,0,0,0, 0,0,0,0, 0,1.5,4.4,2.7, 1.5,0.8,0,0, 0,0,0,0, 0,0,0,0, 0,0,0,0, 0,0,0,0, 0,0,0,0, 2.9,4.1,3.4,2, 0,0,0,0, 0,0,0,0, 0],
    [0,0,0,0, 0,0,0,0, 0,0,0,0, 0,0,0,0, 0,0,0,0, 0,0,0,0, 0,0,0,0, 0,1.8,4.9,18, 0.5,0,0,0, 0,0,0,0, 0,0,0,0, 0,0,0,0, 0,0,0,0, 0,0,0,0, 0,0,0,0, 0,1.2,4.6,2, 0],
    [0,0,0,0, 0,0,0,0, 0,0,0.8,0, 0,0,0,0, 0,0,0,0, 0,0,0,0, 0,0,0,0, 0,0,0.8,0, 0,0,0,0, 0,0,0,0, 0,0,0,0, 0,0,0,0, 0,0,0,0, 1.5,2,0,0, 0,0,0,0, 0,0,0,0, 0],
    [0,0,0,0, 0,0,0,0, 0,0,1.5,2.5, 0.5,0,0,0, 0,0,0,0, 0,0,0,0, 0,0,0,0, 0,0,0,0, 0,0,0,0, 0,0,0,0, 0,0,0,0, 0,0,0,1.4, 0.5,0,0,0, 0,0,0,0, 1,0,0,0, 0,0,0,0, 0],
    [0,0,0,0, 0,0,0,0, 0,0,0,0, 0,0,0,0, 0,0,0,0, 0,0,0,0, 0,0,0,0, 0,0,0,1, 0.8,0,0,0, 0,0,0,0, 0,0,0,0, 0,0,0,0, 0,0,0,0, 0,0,0,0, 0,0,0.8,0, 0,1.8,1.8,1, 0],
    [0,0,0,0, 0,0,0,0, 0,1.5,0.8,0, 0,0,0,0, 0,0,0,0, 0,0,0,0, 0,0,0,0, 0,0,0,0, 0,0,0,0, 0,0,0,0, 0,0,0,0, 0,0,0,0, 0,2,2,0, 0,0,0,0, 0,0,0,1, 0,0,0,0, 0],
    [0,0,0,0, 0,0,0,0, 0,2.5,5.6,1, 0,0,0,0, 0,0,0,0, 0,0,0,0, 0,0,0,0, 0,0,0,0, 0,0,0,0, 0,0,0,0, 0,0,0.3,7, 1,0,0,0, 0,0,0,0, 0,0,0,0, 0,0,0,0, 0,0,0,0, 0],
    [0,0,0,0, 0,0,0,0, 0,0,1,1.5, 0,0,0,0, 0,0,0,0, 0,0,0,0, 0,0,0,0, 0,0,0,0, 0,0,0,0, 0,0,0,0, 0,0,0,0, 0,0,0,0, 0,0,0,0, 0,0,0,0, 0.8,1.5,1,0, 0,0,0,0, 0],
    [0,0,0,0, 0,0,0,0, 0,0,0,0, 0,0,0,0, 0,0,0,0, 0,0,0,0, 0,0,0,0, 0,1.5,4.1,1, 0,0,0,0, 0,0,0,0, 0,0,0,0, 0,0,0,0, 0,0,0,0, 0,0,0,0, 0,0.3,21.8,17.5, 3.7,1.8,0,0, 0],
    [0,0,0,0, 0,0,0,0, 0,0,0,0, 1,9,8.2,0.6, 0,0,0,0, 0,0,0,0, 0,0,0,0, 0,0,0,0, 0,0,0,0, 0,0,0,0, 0,0,0,0, 0,0,0,0, 0,0,0,0, 0,0,0,0, 0,0,1,0.8, 0,0,0,0, 0],
    [0,0,0,0, 0,0,0,0, 0,0,0,0, 0,0,0,0, 0,0,0,0, 0,0,0,0, 0,0,0,0, 0,0,0,0, 0,0,0,0, 0,0,0,0, 0,0,0,0, 0,0,0,0, 0,0,0.5,3.8, 1.8,1.8,0,0, 1,0,0,0, 0,0,0,0, 0],
    [0,0,0,0, 0,0,0,0, 0,0,0,0, 0,0,0,0, 0,0,0,0, 0,0,2.2,0.5, 0,0,0,0, 0,0,0,0, 1.2,1,0,0, 0,0,0,0, 0,0,0,0, 0,0,0,0, 1,1,0,0, 0,0,0,0, 0,0,0,0, 0,0,0,0, 0],
    [0,0,0,0, 0,0,0,0, 0,1,4.9,1, 0,0,0,0, 0,0,0,0, 0,0,0,0, 0,0,0,0, 0,0,0,0, 0,0,0,0, 4.5,2.8,0.3,0, 0,0,0,0, 0,0,0,0, 0,0,0,0, 0,0,0,0, 0,0,0,0, 0,0,0,0, 0],
    [0,0,0,0, 0,0,0,0, 0,0,2,0.8, 0,0,0,0, 0,0,0,0, 0,0,0,0, 0,0,0,0, 0,0,0,1, 0,0,0,0, 0,0,0,0, 0,0,0,0, 0,0,0,0, 0,0,0,0, 0,0,0,0, 1.2,1,0,0, 0,0,0,0, 0],
    [0,0,0,0, 0,0,0,0, 0,0,1,1, 0,0,0,0, 0,0,0,0, 0,0,0,0, 0,0,0,0, 0,0,0,0, 0,0,0,0, 0,0,0,0, 0,0,0,0, 0,0,0,0, 0,0,0,0, 0,1.8,1.5,1.8, 0,0.8,0,0, 0,0,0,0, 0],
    [0,0,0,0, 0,0,0,0, 0,0,1.5,2, 0,0,0,0, 0,0,0,0, 0,0,0,0, 0,0,0,0, 0,0,0,0, 0,0,0,0, 0,0,0,0, 0,0,0,0, 3.9,6.9,4.9,0.2, 0,0,0,0, 0,0,0,0, 0,2,2.5,0, 0,0,0,0, 0],
    [0,0,0,0, 0,0,0,0, 0,6.5,1.8,0, 0,0,0,0, 0,0,0,0, 0,0,0,0, 0,0,0,0, 0,0,0,0, 3.2,1.8,1.5,0, 0,0,0,0, 0,0,0,0, 0,0,0,0, 0,0,0,0, 0,0,0,0, 2,7.5,3.4,0.8, 0,0,0,0, 0],
    [0,0,0,0, 0,0,0,0, 0,0,0.8,1, 0,0,0,0, 0,0,0,0, 0,0,0,0, 0,0,0,0, 0,0,0.5,0, 0,0,0,0, 0,0,0,0, 0,0,0,0, 0,0,0,0, 0,0,0,0, 0,0,1,1, 0,0,0,0, 0,0,0,0, 0],
    [0,0,0,0, 0,0,0,0, 0,0,0,1, 1.8,0.5,0,0, 0,0,0,0, 0,0,0,0, 0,0,0,0, 0,0,0,0, 0,0,0,0, 0,0,0,0, 0,0,0,0, 0,0,0,0, 0,0,1,2.3, 1,0,0,0, 0,0,0,0, 0,0,0,0, 0],
    [0,0,0,0, 0,0,0,0, 0,0,1,1.5, 0,0,0,0, 0,0,0,0, 0,0,0,0, 0,0,0,0, 0,0,0,1.5, 0.8,0,0,0, 0,0,0,0, 0,0,0,0, 0,0,0,0, 0,0,0,0, 0,0,0,0, 0,0.5,1,0, 0,0,0,0, 0],
]

# quick sanity check on the typed series
for name, group in [("t850", t850_perts + [t850_mean, t850_ctrl, t850_gfs]),
                    ("t500", t500_perts + [t500_mean, t500_ctrl, t500_gfs]),
                    ("rr", rr_perts + [rr_mean, rr_ctrl, rr_gfs])]:
    for k, s in enumerate(group):
        if len(s) != len(hours):
            raise ValueError(f"{name} series {k} has {len(s)} values")

plt.rcParams["font.family"] = ["DejaVu Sans Mono", "DejaVu Sans"]
W, H = 740, 700
fig = plt.figure(figsize=(W / 100, H / 100), dpi=100)
ax = fig.add_axes([50 / W, 100 / H, 642 / W, 600 / H])
ax.set_xlim(0, 16)
ax.set_ylim(-52.9, 33.05)
for s in ["top", "left", "right"]:
    ax.spines[s].set_visible(False)
ax.spines["bottom"].set_linewidth(1.0)
ax.set_xticks([])
ax.set_yticks([])

# grid: thick every 10, thin every 5, doubled line at the panel break
for v in range(-45, 31, 5):
    ax.axhline(v, color="#c0c0c0", lw=1.5 if v % 10 == 0 else 0.75, zorder=0)
ax.axhline(0.12, color="#b4b4b4", lw=0.8, zorder=0)
ax.axhline(-0.12, color="#808080", lw=1.0, zorder=0)
for d in range(17):
    ax.axvline(d, color="#c0c0c0", lw=0.8, zorder=0)

x = np.array(hours) / 24.0
rr_base = 45  # precip shares the axis, 0 mm sits on the -45 line

for k in range(30):
    kw = dict(color=pert_colors[k], lw=0.8, marker="+", ms=3, mew=0.7, zorder=2)
    ax.plot(x, t850_perts[k], **kw)
    ax.plot(x, t500_perts[k], **kw)
    ax.plot(x, np.array(rr_perts[k]) - rr_base, **kw)

for series, c, lw, z in [((t850_gfs, t500_gfs, rr_gfs), "black", 2.2, 3),
                         ((t850_ctrl, t500_ctrl, rr_ctrl), "#0000ff", 2.2, 4),
                         ((t850_mean, t500_mean, rr_mean), "#ff0000", 3.6, 5)]:
    ax.plot(x, series[0], color=c, lw=lw, zorder=z)
    ax.plot(x, series[1], color=c, lw=lw, zorder=z)
    ax.plot(x, np.array(series[2]) - rr_base, color=c, lw=lw, zorder=z)

# axis labels left (temp) and right (temp + 45 / precip)
ylab = mtransforms.blended_transform_factory(fig.transFigure, ax.transData)
for v in range(-45, 31, 5):
    ax.text(19 / W, v - 0.35, str(v), transform=ylab, ha="left", va="center", fontsize=8.3)
    ax.text(709 / W, v - 0.35, str(v + 45), transform=ylab, ha="left", va="center", fontsize=8.3)

xlab = mtransforms.blended_transform_factory(ax.transData, fig.transFigure)
for d, lab in enumerate(day_labels):
    ax.text(d + 0.06, 1 - 602 / H, lab, transform=xlab, rotation=90,
            ha="center", va="top", fontsize=7)


def fx(px):
    return px / W


def fy(py):
    return 1 - py / H


fig.text(fx(60), fy(45), "Temp. 850hPa", fontsize=7, va="center")
fig.text(fx(60), fy(278), "Temp. 500hPa", fontsize=7, va="center")
fig.text(fx(59), fy(492), "Précipitations", fontsize=7, va="center")
fig.text(fx(20), fy(607), "(°C)", fontsize=7, va="center")
fig.text(fx(4), fy(623), "Alt. 72m", fontsize=6.4, va="center")
fig.text(fx(710), fy(607), "(mm)", fontsize=7, va="center")

# legend
for (x0, x1, yy), c, lw in [((35, 65, 637), "#ff0000", 3.2),
                            ((225, 255, 637), "#0000ff", 3.0),
                            ((225, 255, 646), "black", 3.0)]:
    fig.add_artist(Line2D([fx(x0), fx(x1)], [fy(yy), fy(yy)], color=c, lw=lw,
                          transform=fig.transFigure))
fig.text(fx(75), fy(637), "Moyenne des scénarios", fontsize=7.1, va="center")
fig.text(fx(265), fy(637), "Run de contrôle", fontsize=7.1, va="center")
fig.text(fx(265), fy(647), "Run GFS", fontsize=7.1, va="center")
fig.text(fx(60), fy(659), "❄", fontsize=9, color="#5aaee8", ha="center", va="center",
         family="DejaVu Sans")
fig.text(fx(75), fy(659), "Risque neige", fontsize=7.1, va="center")
fig.text(fx(340), fy(651), "30 Perts.", fontsize=7.1, va="center")

for k in range(30):
    x0 = 400 + 10.97 * k
    fig.add_artist(Rectangle((fx(x0), fy(655)), 10 / W, 6 / H, color=pert_colors[k],
                             transform=fig.transFigure))
    fig.text(fx(x0 + 5), fy(643), f"{k + 1:02d}", fontsize=5.6, ha="center", va="center",
             fontweight="bold")

fig.add_artist(Rectangle((fx(20), fy(698)), 420 / W, 31 / H, fill=False, ec="black", lw=1,
                         transform=fig.transFigure))
fig.text(fx(30), fy(677), "Diagramme des ensembles GEFS sur 384h : 44.5N 9.5E",
         fontsize=8.4, fontweight="bold", va="center")
fig.text(fx(30), fy(691), "Températures 850hPa et 500hPa (°C) , précipitations (mm)",
         fontsize=7.1, va="center")
fig.text(fx(449), fy(675), "Ensemble GEFS du 26/08/2026 - 00Z", fontsize=7.1, va="center")
fig.text(fx(449), fy(691), "Copyright 2026 Meteociel.fr", fontsize=8.4, fontweight="bold",
         va="center")

fig.savefig("out.png", dpi=100)
